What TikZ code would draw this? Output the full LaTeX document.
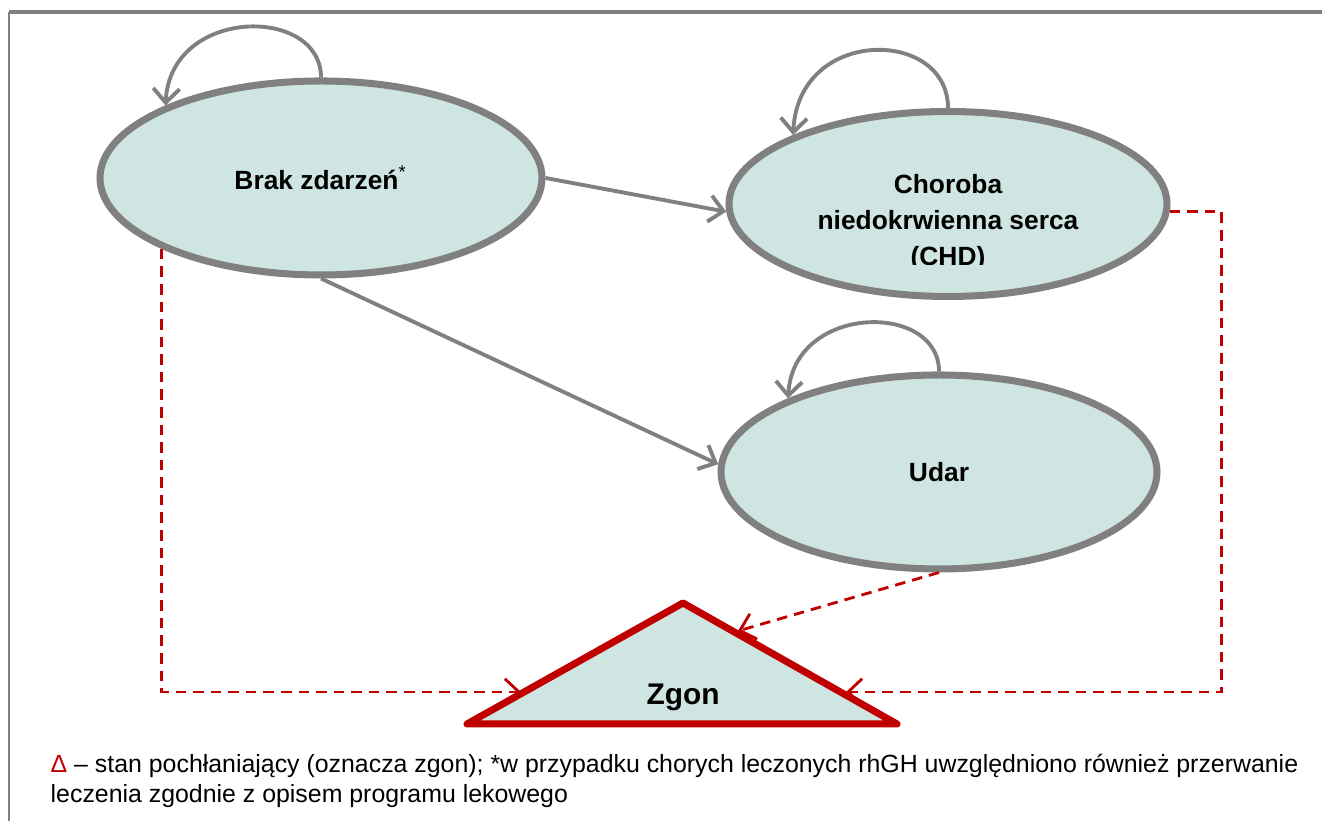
\documentclass[tikz,border=0pt]{standalone}
\usepackage{fontspec}
\setmainfont{Liberation Sans}
\usetikzlibrary{arrows.meta,shapes.geometric}
\definecolor{stanfill}{RGB}{207,229,226}
\definecolor{stanline}{RGB}{128,128,128}
\definecolor{zgonred}{RGB}{192,0,0}
\tikzset{
  stan/.style={ellipse,draw=stanline,fill=stanfill,line width=2pt,
    font=\bfseries\fontsize{7.5}{10.2}\selectfont,align=center},
  przejscie/.style={->,draw=stanline,line width=1.1pt},
  smierc/.style={->,draw=zgonred,line width=0.8pt,dash pattern=on 3pt off 2pt},
}
\begin{document}
\begin{tikzpicture}[>={Straight Barb[length=4pt,width=7.5pt]}]
  \useasboundingbox (0,0) rectangle (13.22,8.21);
  \draw[stanline,line width=0.9pt] (0.09,8.09) -- (13.22,8.09);
  \draw[stanline,line width=0.4pt] (0.09,8.09) -- (0.09,0);
  \node[stan,minimum width=4.42cm,minimum height=1.94cm] (brak)
    at (3.21,6.43) {Brak zdarzeń\textsuperscript{\normalfont *}};
  \node[stan,minimum width=4.38cm,minimum height=1.85cm] (chd)
    at (9.48,6.17) {};
  \begin{scope}
    \clip (7.3,5.56) rectangle (11.7,7.2);
    \node[font=\bfseries\fontsize{7.5}{10.2}\selectfont,align=center]
      (chdtxt) at (9.48,5.985) {Choroba\\niedokrwienna serca\\(CHD)};
  \end{scope}
  \node[stan,minimum width=4.36cm,minimum height=1.94cm] (udar)
    at (9.39,3.49) {Udar};
  \draw[zgonred,fill=stanfill,line width=2pt,line join=round]
    (4.67,0.97) -- (6.83,2.18) -- (8.97,0.97) -- cycle;
  \node[font=\bfseries\fontsize{8.5}{10}\selectfont] (zgon) at (6.83,1.24) {Zgon};
  \coordinate (zgonL) at (5.21,1.29);
  \coordinate (zgonR) at (8.46,1.29);
  \coordinate (zgonT) at (7.38,1.90);
  \draw[przejscie] (brak.east) -- (chd.182);
  \draw[przejscie] (brak.south) -- (udar.178);
  \draw[przejscie] (brak.north) .. controls +(0,0.72) and +(0.05,0.99) .. (brak.155);
  \draw[przejscie] (chd.north) .. controls +(0,0.80) and +(0.05,1.09) .. (chd.156);
  \draw[przejscie] (udar.north) .. controls +(0,0.70) and +(0.05,0.95) .. (udar.154);
  \draw[smierc] (brak.204) |- (zgonL);
  \draw[smierc] (chd.358) -- ++(0.52,0) |- (zgonR);
  \draw[smierc] (udar.south) -- (zgonT);
  \node[anchor=base west,align=left,inner sep=0pt,
    font=\fontsize{7.08}{8.8}\selectfont] (opis) at (0.50,0.18)
    {\textcolor{zgonred}{Δ} – stan pochłaniający (oznacza zgon); *w przypadku chorych leczonych rhGH uwzględniono również przerwanie\\
     leczenia zgodnie z opisem programu lekowego};
\end{tikzpicture}
\end{document}
